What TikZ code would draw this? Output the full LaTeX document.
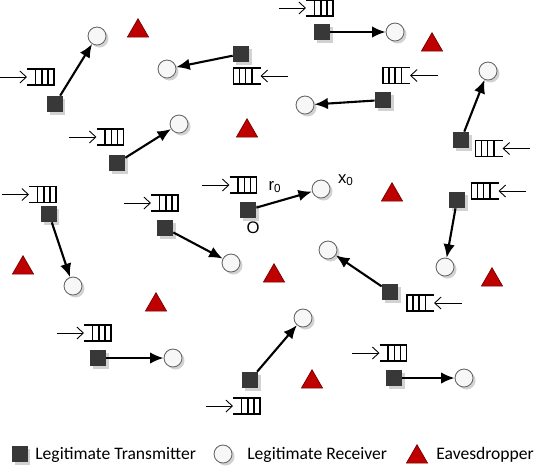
\documentclass[tikz,border=0pt]{standalone}
\usepackage{fontspec}
\setmainfont{Carlito}
\newfontfamily\labelfont{Liberation Sans}
\usetikzlibrary{arrows.meta,shapes.geometric,shadows}

\begin{document}
\begin{tikzpicture}[x=0.02cm,y=-0.02cm,
  tx/.style={rectangle,fill=black!78,minimum size=0.32cm,inner sep=0pt,
    drop shadow={shadow xshift=0.05cm,shadow yshift=-0.05cm,fill=black!25,opacity=0.7}},
  rx/.style={circle,draw=black!60,fill=black!3,line width=0.5pt,minimum size=0.36cm,inner sep=0pt,
    drop shadow={shadow xshift=0.05cm,shadow yshift=-0.05cm,fill=black!25,opacity=0.7}},
  eve/.style={regular polygon,regular polygon sides=3,fill=red!75!black,draw=red!45!black,
    line width=0.4pt,minimum size=0.49cm,inner sep=0pt},
  link/.style={-{Latex[length=2.7mm,width=2.3mm]},line width=1.2pt},
  lbl/.style={font=\labelfont\fontsize{9.5}{11}\selectfont,inner sep=0pt},
  legend/.style={font=\fontsize{10}{12}\selectfont,anchor=base west,inner sep=0pt},
  queue/.pic={
    \draw[line width=0.6pt] (-13.5,-8) -- (13.5,-8) -- (13.5,8) -- (-13.5,8);
    \draw[line width=0.6pt] (-5,-8) -- (-5,8) (1.5,-8) -- (1.5,8) (7.5,-8) -- (7.5,8);
    \draw[line width=0.5pt,-{Straight Barb[length=1.3mm,width=2.4mm]}] (-41,0) -- (-13.5,0);
  }]
\useasboundingbox (0,0) rectangle (540,468);

\node[tx] (tx1) at (55,104) {};
\node[rx] (rx1) at (97,36) {};
\node[tx] (tx2) at (241,54) {};
\node[rx] (rx2) at (167,69) {};
\node[tx] (tx3) at (117,163) {};
\node[rx] (rx3) at (179,124) {};
\node[tx] (tx4) at (49,214) {};
\node[rx] (rx4) at (73,286) {};
\node[tx] (tx5) at (165,228) {};
\node[rx] (rx5) at (231,263) {};
\node[tx] (tx6) at (248,210) {};
\node[rx] (rx6) at (321,189) {};
\node[tx] (tx7) at (322,32) {};
\node[rx] (rx7) at (395,32) {};
\node[tx] (tx8) at (383,100) {};
\node[rx] (rx8) at (305,105) {};
\node[tx] (tx9) at (461,140) {};
\node[rx] (rx9) at (488,71) {};
\node[tx] (tx10) at (457,200) {};
\node[rx] (rx10) at (445,267) {};
\node[tx] (tx11) at (390,292) {};
\node[rx] (rx11) at (328,250) {};
\node[tx] (tx12) at (98,358) {};
\node[rx] (rx12) at (173,358) {};
\node[tx] (tx13) at (250,380) {};
\node[rx] (rx13) at (303,318) {};
\node[tx] (tx14) at (394,378) {};
\node[rx] (rx14) at (464,378) {};

\draw[link] (tx1) -- (rx1);
\draw[link] (tx2) -- (rx2);
\draw[link] (tx3) -- (rx3);
\draw[link] (tx4) -- (rx4);
\draw[link] (tx5) -- (rx5);
\draw[link] (tx6) -- (rx6);
\draw[link] (tx7) -- (rx7);
\draw[link] (tx8) -- (rx8);
\draw[link] (tx9) -- (rx9);
\draw[link] (tx10) -- (rx10);
\draw[link] (tx11) -- (rx11);
\draw[link] (tx12) -- (rx12);
\draw[link] (tx13) -- (rx13);
\draw[link] (tx14) -- (rx14);

\pic at (40.5,77) {queue};
\pic[xscale=-1] at (247,76) {queue};
\pic at (110,137) {queue};
\pic at (42.5,194.5) {queue};
\pic at (164.5,203) {queue};
\pic at (243,185) {queue};
\pic at (319.5,8) {queue};
\pic[xscale=-1] at (396.5,75.5) {queue};
\pic[xscale=-1] at (489,148.5) {queue};
\pic[xscale=-1] at (485,191) {queue};
\pic[xscale=-1] at (420.5,303) {queue};
\pic at (97.5,333) {queue};
\pic at (246.5,406) {queue};
\pic at (393,353) {queue};

\node[eve] (ev1) at (138,31) {};
\node[eve] (ev2) at (247,131) {};
\node[eve] (ev3) at (432,45) {};
\node[eve] (ev4) at (392,195) {};
\node[eve] (ev5) at (23,268) {};
\node[eve] (ev6) at (156,305) {};
\node[eve] (ev7) at (274,276) {};
\node[eve] (ev8) at (492,280) {};
\node[eve] (ev9) at (312,382) {};

\node[lbl] (r0) at (275,187) {r\textsubscript{0}};
\node[lbl] (x0) at (346,180) {x\textsubscript{0}};
\node[lbl] (orig) at (253,228) {O};

% legend
\node[tx] (legtx) at (20,454) {};
\node[legend] (legtxt1) at (35,459) {Legitimate Transmitter};
\node[rx] (legrx) at (223,454) {};
\node[legend] (legtxt2) at (247,459) {Legitimate Receiver};
\node[eve] (legev) at (417,457) {};
\node[legend] (legtxt3) at (436,459) {Eavesdropper};
\end{tikzpicture}
\end{document}
